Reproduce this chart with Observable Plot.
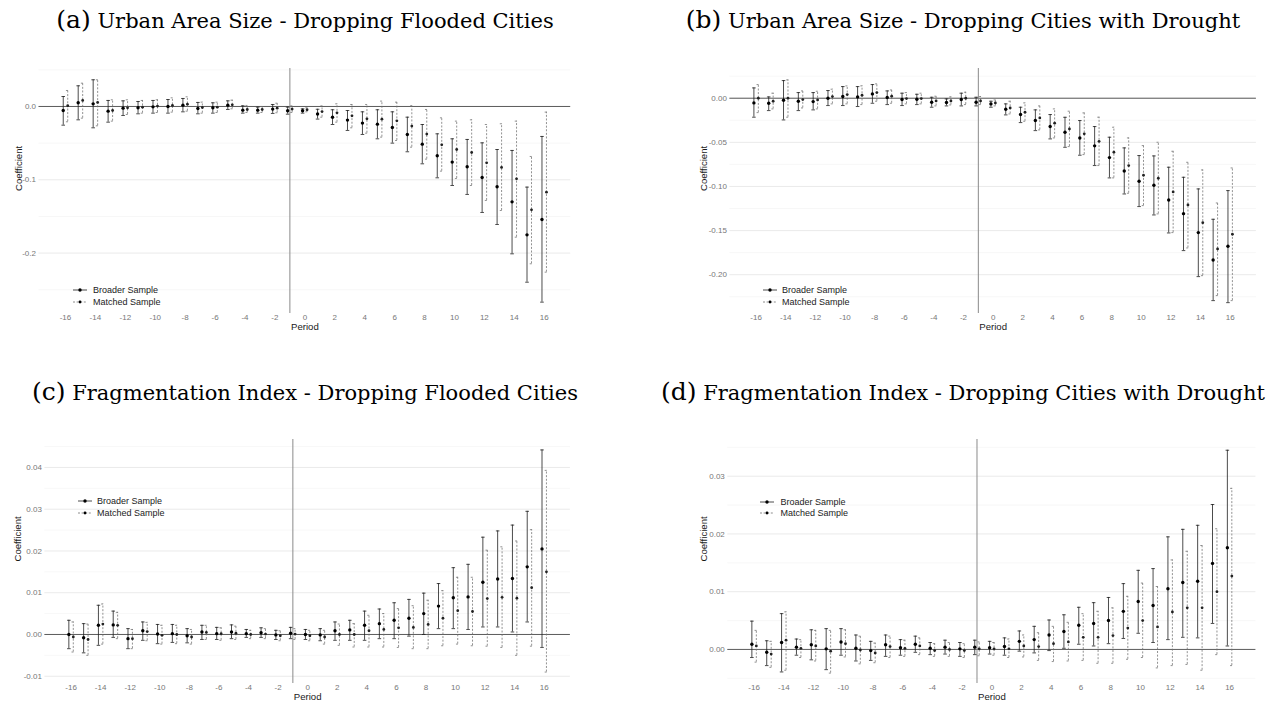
<!DOCTYPE html>
<html><head><meta charset="utf-8">
<script src="https://cdn.jsdelivr.net/npm/d3@7"></script>
<script src="https://cdn.jsdelivr.net/npm/@observablehq/plot@0.6"></script>
<style>
body{margin:0;background:#fff}
#root{position:relative;width:1270px;height:705px;overflow:hidden;background:#fff}
.title{position:absolute;font-family:"DejaVu Serif",serif;font-size:21px;line-height:26px;white-space:nowrap;transform:translateX(-50%);color:#000}
.title .lab{font-size:25px}
.legtxt{position:absolute;font-family:"Liberation Sans",Arial,sans-serif;font-size:9px;line-height:12px;color:#222;white-space:nowrap}
.legkey{position:absolute}
</style>
</head><body><div id="root"></div>
<script>
const periods = [-16,-15,-14,-13,-12,-11,-10,-9,-8,-7,-6,-5,-4,-3,-2,-1,0,1,2,3,4,5,6,7,8,9,10,11,12,13,14,15,16];
const xTicks = [-16,-14,-12,-10,-8,-6,-4,-2,0,2,4,6,8,10,12,14,16];
const seriesNames = ["Broader Sample","Matched Sample"];

// (a) Urban Area Size - Dropping Flooded Cities
const aBroadEst = [-0.0055,0.005,0.0036,-0.0064,-0.0023,-0.0018,-0.0005,0,0.0018,-0.0027,-0.0018,0.0018,-0.005,-0.005,-0.0036,-0.0059,-0.0059,-0.0103,-0.0146,-0.0186,-0.0227,-0.0241,-0.0286,-0.0382,-0.0514,-0.0673,-0.0759,-0.0823,-0.0969,-0.1096,-0.1301,-0.1751,-0.1542];
const aBroadLo = [-0.0255,-0.0182,-0.0291,-0.0214,-0.0123,-0.01,-0.0091,-0.0091,-0.0073,-0.01,-0.0091,-0.0041,-0.0091,-0.0091,-0.0095,-0.0105,-0.0091,-0.0172,-0.0246,-0.0327,-0.0382,-0.0441,-0.05,-0.0618,-0.0782,-0.0973,-0.1078,-0.12,-0.1446,-0.161,-0.201,-0.2397,-0.2669];
const aBroadHi = [0.0136,0.0282,0.0364,0.0082,0.0077,0.0068,0.0082,0.0095,0.0109,0.0055,0.005,0.0077,0.0009,-0.0009,0.0027,-0.0009,-0.0032,-0.0038,-0.0045,-0.0055,-0.0073,-0.0045,-0.0073,-0.0146,-0.0246,-0.0373,-0.0441,-0.045,-0.0496,-0.0587,-0.06,-0.11,-0.0409];
const aMatchEst = [0.001,0.0082,0.0055,-0.0055,-0.0018,-0.0009,0.0005,0.0014,0.0032,-0.0014,-0.0009,0.0023,-0.0041,-0.0041,-0.0023,-0.0036,-0.0045,-0.007,-0.0086,-0.0127,-0.0168,-0.0173,-0.0196,-0.0268,-0.0377,-0.0523,-0.0587,-0.0628,-0.0769,-0.0832,-0.0987,-0.141,-0.1169];
const aMatchLo = [-0.0209,-0.0159,-0.0264,-0.02,-0.0109,-0.0091,-0.0082,-0.0077,-0.0064,-0.0091,-0.0082,-0.0032,-0.0082,-0.0082,-0.0086,-0.0082,-0.0073,-0.0146,-0.0214,-0.0291,-0.0364,-0.0418,-0.0464,-0.0555,-0.0718,-0.0882,-0.0982,-0.1078,-0.1282,-0.1419,-0.1783,-0.2146,-0.226];
const aMatchHi = [0.0218,0.0318,0.0364,0.0091,0.0091,0.0082,0.0091,0.0118,0.0132,0.0059,0.0059,0.0086,0.0014,0,0.0045,0.0009,-0.0018,0.0007,0.0036,0.0027,0.0027,0.0073,0.0059,0.0009,-0.0041,-0.0155,-0.02,-0.0182,-0.0246,-0.0236,-0.02,-0.0682,-0.0077];

// (b) Urban Area Size - Dropping Cities with Drought
const bBroadEst = [-0.0053,-0.0057,-0.0023,-0.0034,-0.0038,0,0.0019,0.0015,0.0049,0.0008,-0.0015,-0.0011,-0.0045,-0.0049,-0.0015,-0.0045,-0.0064,-0.0125,-0.0185,-0.0253,-0.0321,-0.0385,-0.045,-0.054,-0.0673,-0.0824,-0.0941,-0.0986,-0.1153,-0.1308,-0.1523,-0.1833,-0.1678];
const bBroadLo = [-0.0215,-0.014,-0.0246,-0.014,-0.0132,-0.0083,-0.0083,-0.0094,-0.0057,-0.0072,-0.0083,-0.0072,-0.0102,-0.0087,-0.0087,-0.0087,-0.0102,-0.0189,-0.0276,-0.0367,-0.0461,-0.0556,-0.0646,-0.0763,-0.0903,-0.1085,-0.1228,-0.1323,-0.1527,-0.1727,-0.2022,-0.2294,-0.2317];
const bBroadHi = [0.0117,0.0015,0.02,0.0064,0.0064,0.0087,0.0132,0.0132,0.0155,0.0083,0.0057,0.0045,0.0011,-0.0008,0.0057,0.0011,-0.0034,-0.0064,-0.0102,-0.0132,-0.0185,-0.0216,-0.0253,-0.0321,-0.0442,-0.0563,-0.065,-0.0654,-0.0782,-0.0896,-0.1028,-0.1372,-0.1047];
const bMatchEst = [0,-0.0034,0,-0.0015,-0.0019,0.0019,0.0042,0.0034,0.0064,0.0023,-0.0004,-0.0004,-0.003,-0.003,0,-0.003,-0.0053,-0.011,-0.0159,-0.0223,-0.0283,-0.0348,-0.0404,-0.0488,-0.0612,-0.0763,-0.0873,-0.0907,-0.1062,-0.1209,-0.141,-0.1708,-0.1542];
const bMatchLo = [-0.0163,-0.0121,-0.0215,-0.011,-0.0121,-0.0064,-0.0064,-0.0072,-0.0034,-0.0057,-0.0064,-0.0064,-0.0087,-0.0076,-0.0072,-0.0072,-0.0087,-0.0178,-0.0261,-0.0359,-0.045,-0.0548,-0.0639,-0.0763,-0.0903,-0.1077,-0.1217,-0.1311,-0.1523,-0.1697,-0.2011,-0.2237,-0.2294];
const bMatchHi = [0.0155,0.0057,0.0208,0.0083,0.0079,0.0102,0.014,0.014,0.0163,0.0094,0.0064,0.0057,0.0023,0.0015,0.0068,0.0019,-0.0019,-0.0034,-0.0053,-0.0087,-0.0121,-0.0147,-0.0166,-0.0215,-0.0329,-0.045,-0.0537,-0.0499,-0.0601,-0.0726,-0.0813,-0.1187,-0.079];

// (c) Fragmentation Index - Dropping Flooded Cities
const cBroadEst = [0,-0.0008,0.0022,0.0023,-0.001,0.0009,0.0001,0.0002,-0.0003,0.0006,0.0002,0.0006,0.0002,0.0004,-0.0001,0.0003,0,-0.0001,0.0009,0.0011,0.0022,0.0026,0.0034,0.0039,0.005,0.0068,0.0088,0.009,0.0125,0.0133,0.0134,0.0162,0.0205];
const cBroadLo = [-0.0034,-0.0044,-0.0026,-0.0007,-0.0034,-0.0014,-0.0022,-0.0019,-0.002,-0.0012,-0.0012,-0.001,-0.0007,-0.0007,-0.0012,-0.001,-0.0012,-0.0015,-0.0014,-0.0014,-0.0014,-0.001,-0.001,-0.0004,0,0.0014,0.0014,0.0012,0.0018,0.0018,0.0006,0.003,-0.0031];
const cBroadHi = [0.0034,0.0026,0.007,0.0056,0.0014,0.003,0.0024,0.0024,0.0014,0.0022,0.0017,0.0023,0.0012,0.0016,0.001,0.0017,0.0012,0.0014,0.003,0.0034,0.0056,0.0061,0.0076,0.0084,0.0099,0.0122,0.016,0.0168,0.0233,0.0248,0.0262,0.0295,0.0442];
const cMatchEst = [-0.0006,-0.0012,0.0025,0.0022,-0.001,0.0007,-0.0002,0,-0.0006,0.0005,0.0002,0.0003,0,0.0001,-0.0003,0.0001,-0.0003,-0.0006,0,0,0.0009,0.0012,0.0016,0.0017,0.0024,0.0039,0.0057,0.0055,0.0086,0.0089,0.0087,0.0112,0.015];
const cMatchLo = [-0.0042,-0.005,-0.0023,-0.001,-0.0034,-0.0015,-0.0023,-0.0022,-0.0023,-0.0012,-0.0014,-0.0012,-0.001,-0.001,-0.0015,-0.0012,-0.0015,-0.0023,-0.0026,-0.003,-0.003,-0.003,-0.0031,-0.0034,-0.0034,-0.0027,-0.0023,-0.0027,-0.0028,-0.0031,-0.005,-0.0028,-0.009];
const cMatchHi = [0.003,0.0025,0.0073,0.0053,0.0012,0.0029,0.0022,0.0022,0.0012,0.0022,0.0016,0.002,0.001,0.0014,0.0009,0.0014,0.001,0.001,0.0025,0.0026,0.0046,0.005,0.0062,0.0069,0.0082,0.0105,0.0137,0.0137,0.0202,0.021,0.0224,0.0251,0.0393];

// (d) Fragmentation Index - Dropping Cities with Drought
const dBroadEst = [0.0009,-0.0005,0.0012,0.0004,0.0008,0.0001,0.0013,0.0002,-0.0002,0.0008,0.0003,0.0009,0.0002,0.0004,0.0001,0.0004,0.0003,0.0005,0.0014,0.0017,0.0025,0.0031,0.0042,0.0045,0.005,0.0066,0.0083,0.0076,0.0105,0.0116,0.0118,0.0149,0.0176];
const dBroadLo = [-0.0014,-0.0028,-0.0039,-0.001,-0.0018,-0.0035,-0.001,-0.002,-0.0019,-0.0012,-0.001,-0.0005,-0.0009,-0.0008,-0.0012,-0.0009,-0.0008,-0.001,-0.0003,-0.0006,-0.0002,0.0002,0.0009,0.0006,0.001,0.0019,0.0028,0.0012,0.0017,0.0021,0.002,0.0045,0.0006];
const dBroadHi = [0.0049,0.0015,0.0062,0.0018,0.0034,0.0036,0.0036,0.0025,0.0014,0.0025,0.0017,0.0023,0.0012,0.0016,0.0012,0.0016,0.0014,0.002,0.0032,0.004,0.0051,0.006,0.0073,0.0081,0.009,0.0114,0.0137,0.014,0.0195,0.0208,0.0215,0.0251,0.0345];
const dMatchEst = [0.0006,-0.0008,0.0016,0.0002,0.0006,-0.0003,0.001,-0.0001,-0.0006,0.0005,0.0002,0.0006,-0.0002,0,-0.0002,0.0001,0.0001,0.0001,0.0006,0.0005,0.001,0.0013,0.0021,0.0021,0.0024,0.0037,0.005,0.0039,0.0065,0.0072,0.0072,0.01,0.0127];
const dMatchLo = [-0.0022,-0.0031,-0.0036,-0.0014,-0.002,-0.0041,-0.0013,-0.0025,-0.0023,-0.0014,-0.0012,-0.0009,-0.0012,-0.0012,-0.0014,-0.0011,-0.001,-0.0014,-0.0013,-0.0019,-0.0021,-0.002,-0.0019,-0.0024,-0.0024,-0.0017,-0.0014,-0.0032,-0.0028,-0.0026,-0.0036,-0.0009,-0.0028];
const dMatchHi = [0.0033,0.0014,0.0065,0.0017,0.0033,0.0033,0.0034,0.0023,0.0011,0.0023,0.0016,0.002,0.001,0.0012,0.001,0.0013,0.0012,0.0018,0.0025,0.0029,0.004,0.0047,0.0062,0.0066,0.0072,0.0092,0.0115,0.0109,0.0155,0.017,0.018,0.0209,0.0279];

// y tick values (labelled) and minor grid values
const aTicks = [0, -0.1, -0.2], aMinor = [0.05, -0.05, -0.15, -0.25];
const bTicks = [0, -0.05, -0.1, -0.15, -0.2], bMinor = [0.025, -0.025, -0.075, -0.125, -0.175, -0.225];
const cTicks = [-0.01, 0, 0.01, 0.02, 0.03, 0.04], cMinor = [-0.005, 0.005, 0.015, 0.025, 0.035, 0.045];
const dTicks = [0, 0.01, 0.02, 0.03], dMinor = [-0.005, 0.005, 0.015, 0.025, 0.035];

const titles = [
  ["(a)", "Urban Area Size - Dropping Flooded Cities"],
  ["(b)", "Urban Area Size - Dropping Cities with Drought"],
  ["(c)", "Fragmentation Index - Dropping Flooded Cities"],
  ["(d)", "Fragmentation Index - Dropping Cities with Drought"]
];

const root = document.getElementById("root");
const fmtSigned = n => d => (d < 0 ? "-" : "") + Math.abs(d).toFixed(n);
const fmtX = d => (d < 0 ? "-" : "") + Math.abs(d);

function rowsOf(est, lo, hi, shift) {
  return periods.map((p, i) => ({p, xd: p + shift, est: est[i], lo: lo[i], hi: hi[i]}));
}

function panel(cfg) {
  const broad = rowsOf(cfg.be, cfg.bl, cfg.bh, -0.15);
  const match = rowsOf(cfg.me, cfg.ml, cfg.mh, 0.15);
  const cap = 0.12;
  const solid = {stroke: "#1e1e1e", strokeWidth: 0.8};
  const dashed = {stroke: "#6e6e6e", strokeWidth: 0.75, strokeDasharray: "2,1.6"};
  const svg = Plot.plot({
    width: 1270, height: 705,
    marginLeft: cfg.ml0, marginRight: cfg.mr0, marginTop: cfg.mt0, marginBottom: cfg.mb0,
    x: {domain: [-17.77, 17.77], label: null},
    y: {domain: cfg.yDomain, label: null},
    style: {background: "transparent", fontFamily: "'Liberation Sans', Arial, sans-serif", fontSize: "8px", color: "#777", position: "absolute", left: "0px", top: "0px", overflow: "visible"},
    marks: [
      Plot.gridY({ticks: cfg.minor, stroke: "#f2f2f2", strokeOpacity: 1, strokeWidth: 0.6}),
      Plot.gridY({ticks: cfg.ticks, stroke: "#e8e8e8", strokeOpacity: 1, strokeWidth: 0.9}),
      Plot.ruleY([0], {stroke: "#5c5c5c", strokeWidth: 1}),
      Plot.ruleX([-1], {stroke: "#8a8a8a", strokeWidth: 1}),
      Plot.ruleX(match, {x: "xd", y1: "lo", y2: "hi", ...dashed}),
      Plot.link(match, {x1: d => d.xd - cap, x2: d => d.xd + cap, y1: "lo", y2: "lo", ...dashed}),
      Plot.link(match, {x1: d => d.xd - cap, x2: d => d.xd + cap, y1: "hi", y2: "hi", ...dashed}),
      Plot.ruleX(broad, {x: "xd", y1: "lo", y2: "hi", ...solid}),
      Plot.link(broad, {x1: d => d.xd - cap, x2: d => d.xd + cap, y1: "lo", y2: "lo", ...solid}),
      Plot.link(broad, {x1: d => d.xd - cap, x2: d => d.xd + cap, y1: "hi", y2: "hi", ...solid}),
      Plot.dot(match, {x: "xd", y: "est", r: 1.4, fill: "#222", stroke: "none"}),
      Plot.dot(broad, {x: "xd", y: "est", r: 1.7, fill: "#000", stroke: "none"}),
      Plot.axisX({ticks: xTicks, tickSize: 0, tickPadding: 1, tickFormat: fmtX, label: null}),
      Plot.axisY({ticks: cfg.ticks, tickSize: 0, tickPadding: 3, tickFormat: cfg.fmt, label: null}),
      Plot.text(["Period"], {frameAnchor: "bottom", dy: 16.2, fill: "#1a1a1a", fontSize: 9.6}),
      Plot.text(["Coefficient"], {frameAnchor: "left", dx: cfg.ylabDx, rotate: -90, fill: "#1a1a1a", fontSize: 9.6})
    ]
  });
  root.appendChild(svg);
}

function legend(keyX, textX, ys) {
  seriesNames.forEach((name, i) => {
    const y = ys[i];
    const ns = "http://www.w3.org/2000/svg";
    const s = document.createElementNS(ns, "svg");
    s.setAttribute("class", "legkey");
    s.setAttribute("width", 16); s.setAttribute("height", 10);
    s.style.left = keyX + "px"; s.style.top = (y - 5) + "px";
    const ln = document.createElementNS(ns, "line");
    ln.setAttribute("x1", 0); ln.setAttribute("x2", 14); ln.setAttribute("y1", 5); ln.setAttribute("y2", 5);
    ln.setAttribute("stroke", i === 0 ? "#1e1e1e" : "#6e6e6e");
    ln.setAttribute("stroke-width", 0.8);
    if (i === 1) ln.setAttribute("stroke-dasharray", "2,1.6");
    const c = document.createElementNS(ns, "circle");
    c.setAttribute("cx", 7); c.setAttribute("cy", 5); c.setAttribute("r", i === 0 ? 1.7 : 1.4);
    c.setAttribute("fill", "#000");
    s.appendChild(ln); s.appendChild(c);
    root.appendChild(s);
    const t = document.createElement("div");
    t.className = "legtxt";
    t.textContent = name;
    t.style.left = textX + "px"; t.style.top = (y - 6) + "px";
    root.appendChild(t);
  });
}

function title(i, cx, top) {
  const d = document.createElement("div");
  d.className = "title";
  d.style.left = cx + "px"; d.style.top = top + "px";
  const s = document.createElement("span"); s.className = "lab"; s.textContent = titles[i][0];
  d.appendChild(s);
  d.appendChild(document.createTextNode(" " + titles[i][1]));
  root.appendChild(d);
}

panel({be: aBroadEst, bl: aBroadLo, bh: aBroadHi, me: aMatchEst, ml: aMatchLo, mh: aMatchHi,
  yDomain: [-0.2824, 0.0518], ticks: aTicks, minor: aMinor, fmt: fmtSigned(1),
  ml0: 38.5, mr0: 699.8, mt0: 68, mb0: 392, ylabDx: -20});
panel({be: bBroadEst, bl: bBroadLo, bh: bBroadHi, me: bMatchEst, ml: bMatchLo, mh: bMatchHi,
  yDomain: [-0.244, 0.0337], ticks: bTicks, minor: bMinor, fmt: fmtSigned(2),
  ml0: 729.4, mr0: 14.1, mt0: 68, mb0: 392, ylabDx: -26});
panel({be: cBroadEst, bl: cBroadLo, bh: cBroadHi, me: cMatchEst, ml: cMatchLo, mh: cMatchHi,
  yDomain: [-0.01174, 0.0467], ticks: cTicks, minor: cMinor, fmt: fmtSigned(2),
  ml0: 44.4, mr0: 700.1, mt0: 439, mb0: 22, ylabDx: -26.5});
panel({be: dBroadEst, bl: dBroadLo, bh: dBroadHi, me: dMatchEst, ml: dMatchLo, mh: dMatchHi,
  yDomain: [-0.0059, 0.03636], ticks: dTicks, minor: dMinor, fmt: fmtSigned(2),
  ml0: 727.3, mr0: 14.6, mt0: 439, mb0: 22, ylabDx: -24});

legend(73, 93, [290, 301.7]);
legend(763, 782, [290, 301.7]);
legend(78, 97, [501, 512.7]);
legend(760, 780.5, [501.7, 512.7]);

title(0, 305, 7);
title(1, 963, 7);
title(2, 305, 379);
title(3, 963, 379);
</script>
</body></html>
